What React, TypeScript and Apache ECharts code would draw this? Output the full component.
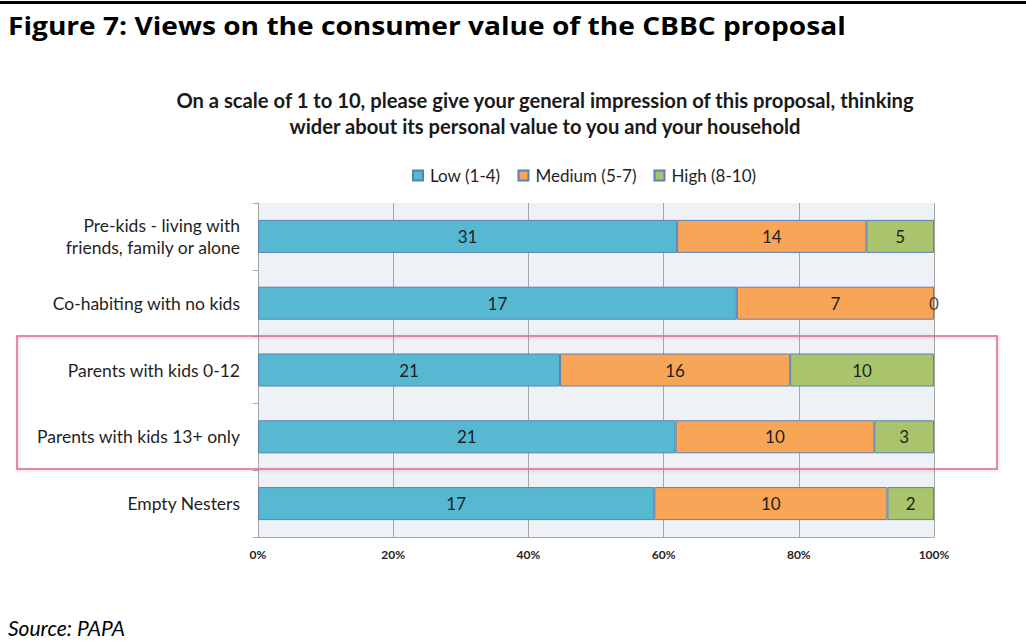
import React, { useEffect, useRef } from "react";
import * as echarts from "echarts";

const categories = [
  "Pre-kids - living with\nfriends, family or alone",
  "Co-habiting with no kids",
  "Parents with kids 0-12",
  "Parents with kids 13+ only",
  "Empty Nesters",
];
const seriesNames = ["Low (1-4)", "Medium (5-7)", "High (8-10)"];
const lowCounts = [31, 17, 21, 21, 17];
const mediumCounts = [14, 7, 16, 10, 10];
const highCounts = [5, 0, 10, 3, 2];
const xTicks = [0, 20, 40, 60, 80, 100];

const colors = ["#56B9D1", "#F8A557", "#A9C46C"];
const FONT = "Lato, 'Open Sans', sans-serif";

export default function App() {
  const ref = useRef<HTMLDivElement>(null);
  useEffect(() => {
    document.body.style.margin = "0";
    if (!ref.current) return;
    const chart = echarts.init(ref.current, null, { renderer: "svg" });
    const counts = [lowCounts, mediumCounts, highCounts];
    const totals = lowCounts.map((v, i) => v + mediumCounts[i] + highCounts[i]);
    const labelStyle = {
      color: "#1f1f1f",
      fontFamily: FONT,
      fontSize: 17,
    };
    const series: any[] = counts.map((arr, si) => ({
      name: seriesNames[si],
      type: "bar",
      stack: "total",
      barWidth: 33,
      data: arr.map((v, i) => (v / totals[i]) * 100),
      itemStyle: { color: colors[si], borderColor: "#5B80B4", borderWidth: 1 },
      label: {
        show: true,
        position: "inside",
        ...labelStyle,
        formatter: (p: any) => (arr[p.dataIndex] === 0 ? "" : String(arr[p.dataIndex])),
      },
    }));
    // labels for zero-size segments, placed at their cumulative position
    const zeroPoints: any[] = [];
    counts.forEach((arr, si) => {
      arr.forEach((v, i) => {
        if (v === 0) {
          let cum = 0;
          for (let k = 0; k <= si; k++) cum += (counts[k][i] / totals[i]) * 100;
          zeroPoints.push({ value: [cum, i], count: v });
        }
      });
    });
    series.push({
      type: "scatter",
      name: "zero",
      symbolSize: 2,
      itemStyle: { color: "rgba(0,0,0,0)" },
      data: zeroPoints,
      silent: true,
      z: 5,
      label: {
        show: true,
        position: "inside",
        ...labelStyle,
        formatter: (p: any) => String(p.data.count),
      },
    });
    chart.setOption({
      animation: false,
      textStyle: { fontFamily: FONT },
      legend: {
        data: seriesNames,
        left: 412,
        top: 167,
        padding: 0,
        icon: "rect",
        itemWidth: 10,
        itemHeight: 10,
        itemGap: 17,
        textStyle: { fontFamily: FONT, fontSize: 17, color: "#1f1f1f", padding: [0, 0, 0, 2] },
      },
      grid: {
        left: 258,
        right: 92,
        top: 203,
        bottom: 107,
        show: true,
        backgroundColor: "#EEF1F6",
        borderWidth: 0,
      },
      xAxis: {
        type: "value",
        min: xTicks[0],
        max: xTicks[xTicks.length - 1],
        interval: 20,
        axisLine: { show: true, lineStyle: { color: "#A6A6A6" } },
        axisTick: { show: false },
        splitLine: { show: true, lineStyle: { color: "#A6A6A6", width: 1 } },
        axisLabel: {
          formatter: "{value}%",
          fontFamily: FONT,
          fontWeight: "bold",
          fontSize: 12,
          color: "#1f1f1f",
          margin: 11,
        },
      },
      yAxis: {
        type: "category",
        data: categories,
        inverse: true,
        axisLine: { show: true, lineStyle: { color: "#A6A6A6" } },
        axisTick: { show: true, length: 5, lineStyle: { color: "#A6A6A6" } },
        axisLabel: {
          fontFamily: FONT,
          fontSize: 17.5,
          color: "#1f1f1f",
          margin: 18,
          lineHeight: 22,
          align: "right",
        },
      },
      series,
      graphic: [
        {
          type: "rect",
          shape: { x: 0, y: 1, width: 1026, height: 3 },
          style: { fill: "#000" },
        },
        {
          type: "text",
          x: 8,
          y: 26,
          scaleX: 1.125,
          style: {
            text: "Figure 7: Views on the consumer value of the CBBC proposal",
            font: "bold 25px 'Open Sans', sans-serif",
            fill: "#000",
            textVerticalAlign: "middle",
          },
        },
        {
          type: "text",
          x: 545,
          y: 87,
          style: {
            text:
              "On a scale of 1 to 10, please give your general impression of this proposal, thinking\nwider about its personal value to you and your household",
            font: "bold 20.2px " + FONT,
            fill: "#1a1a1a",
            textAlign: "center",
            lineHeight: 26,
          },
        },
        {
          type: "rect",
          z: 100,
          shape: { x: 17, y: 336, width: 980, height: 133 },
          style: {
            fill: "none",
            stroke: "#E2668F",
            lineWidth: 1.5,
            shadowBlur: 3,
            shadowColor: "rgba(0,0,0,0.2)",
            shadowOffsetX: 1,
            shadowOffsetY: 1,
          },
        },
        {
          type: "text",
          x: 8,
          y: 627,
          style: {
            text: "Source: PAPA",
            font: "italic 21px " + FONT,
            fill: "#000",
            textVerticalAlign: "middle",
          },
        },
      ],
    });
    return () => chart.dispose();
  }, []);
  return <div ref={ref} style={{ width: 1026, height: 644 }} />;
}
